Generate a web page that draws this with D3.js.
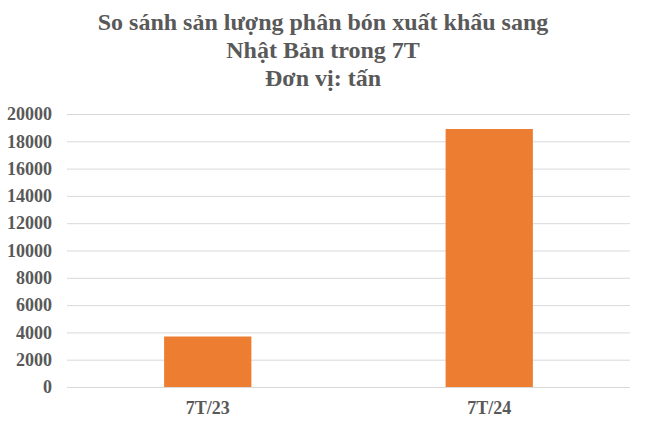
<!DOCTYPE html>
<html>
<head>
<meta charset="utf-8">
<script src="https://cdn.jsdelivr.net/npm/d3@7"></script>
<style>
  body { margin: 0; background: #fff; }
  svg text { font-family: "Liberation Serif", "DejaVu Serif", serif; font-weight: bold; fill: #595959; }
</style>
</head>
<body>
<div id="chart"></div>
<script>
// chart data
const categories = ["7T/23", "7T/24"];
const values = [3700, 18900];
const yTicks = [0, 2000, 4000, 6000, 8000, 10000, 12000, 14000, 16000, 18000, 20000];
const titleLines = ["So sánh sản lượng phân bón xuất khẩu sang", "Nhật Bản trong 7T", "Đơn vị: tấn"];

const W = 646, H = 425;
const MARGIN = { LEFT: 67, RIGHT: 16, TOP: 114, BOTTOM: 38 };
const width = W - MARGIN.LEFT - MARGIN.RIGHT;
const height = H - MARGIN.TOP - MARGIN.BOTTOM;

const svg = d3.select("#chart").append("svg")
    .attr("width", W)
    .attr("height", H)
    .attr("font-family", "Liberation Serif");

// title
svg.append("text")
    .attr("text-anchor", "middle")
    .style("font-size", "24px")
    .selectAll("tspan")
    .data(titleLines)
    .enter().append("tspan")
    .attr("x", 323)
    .attr("y", (d, i) => 30 + i * 28)
    .text(d => d);

const g = svg.append("g")
    .attr("transform", `translate(${MARGIN.LEFT}, ${MARGIN.TOP})`);

const x = d3.scaleBand()
    .domain(categories)
    .range([0, width])
    .paddingInner(0.69)
    .paddingOuter(0.345);

const y = d3.scaleLinear()
    .domain([0, 20000])
    .range([height, 0]);

// gridlines
g.append("g")
    .call(d3.axisLeft(y).tickValues(yTicks).tickSize(-width).tickFormat(""))
    .call(s => s.select(".domain").remove())
    .selectAll("line")
    .attr("stroke", "#d9d9d9")
    .attr("stroke-width", 1);

// y labels
g.append("g")
    .call(d3.axisLeft(y).tickValues(yTicks).tickSize(0).tickPadding(15).tickFormat(d3.format("d")))
    .call(s => s.select(".domain").remove())
    .selectAll("text")
    .style("font-size", "18px")
    .attr("fill", "#595959");

// bars
g.selectAll("rect")
    .data(categories)
    .enter().append("rect")
    .attr("x", d => x(d))
    .attr("width", x.bandwidth())
    .attr("y", (d, i) => y(values[i]))
    .attr("height", (d, i) => height - y(values[i]))
    .attr("fill", "#ed7d31");

// x labels
g.append("g")
    .attr("transform", `translate(0, ${height})`)
    .call(d3.axisBottom(x).tickSize(0).tickPadding(14))
    .call(s => s.select(".domain").remove())
    .selectAll("text")
    .style("font-size", "18px")
    .attr("fill", "#595959");
</script>
</body>
</html>
